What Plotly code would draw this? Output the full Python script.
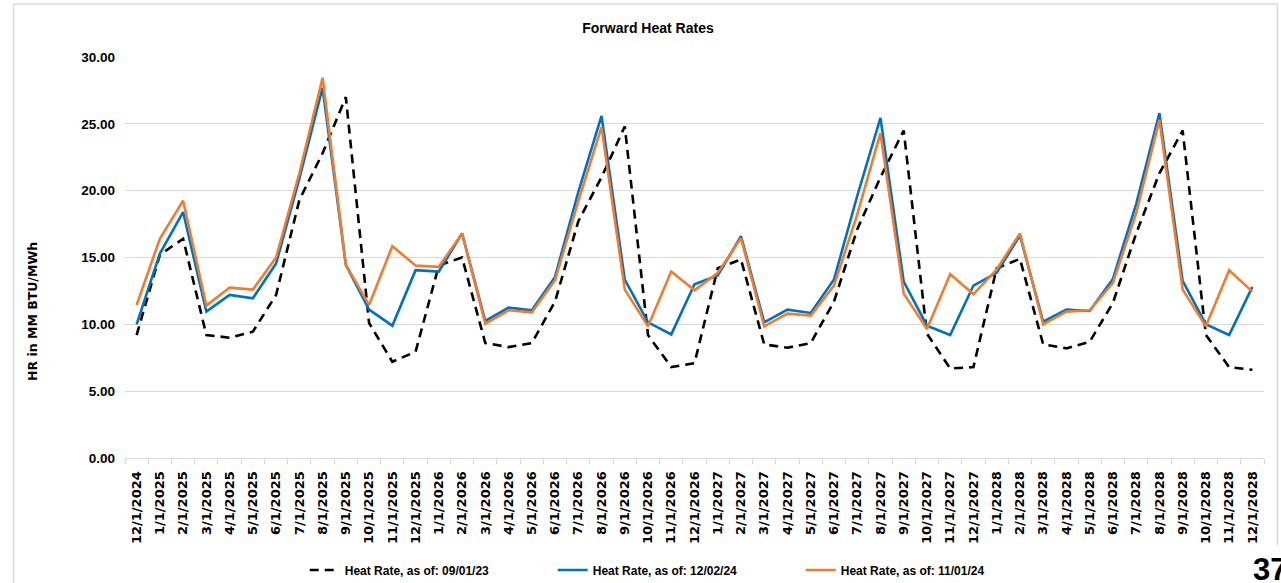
import plotly.graph_objects as go

months = [
    "12/1/2024", "1/1/2025", "2/1/2025", "3/1/2025", "4/1/2025", "5/1/2025", "6/1/2025",
    "7/1/2025", "8/1/2025", "9/1/2025", "10/1/2025", "11/1/2025", "12/1/2025",
    "1/1/2026", "2/1/2026", "3/1/2026", "4/1/2026", "5/1/2026", "6/1/2026",
    "7/1/2026", "8/1/2026", "9/1/2026", "10/1/2026", "11/1/2026", "12/1/2026",
    "1/1/2027", "2/1/2027", "3/1/2027", "4/1/2027", "5/1/2027", "6/1/2027",
    "7/1/2027", "8/1/2027", "9/1/2027", "10/1/2027", "11/1/2027", "12/1/2027",
    "1/1/2028", "2/1/2028", "3/1/2028", "4/1/2028", "5/1/2028", "6/1/2028",
    "7/1/2028", "8/1/2028", "9/1/2028", "10/1/2028", "11/1/2028", "12/1/2028",
]

hr_090123 = [9.2, 15.2, 16.4, 9.2, 9.0, 9.45, 12.2, 19.3, 22.8, 27.0, 10.1, 7.2, 7.95,
             14.4, 15.0, 8.6, 8.3, 8.6, 11.7, 17.7, 21.0, 24.8, 9.2, 6.8, 7.1,
             14.2, 14.85, 8.5, 8.25, 8.6, 11.7, 17.1, 21.0, 24.5, 9.3, 6.7, 6.8,
             14.2, 14.9, 8.5, 8.2, 8.7, 11.6, 16.8, 21.3, 24.5, 9.2, 6.8, 6.6]

hr_120224 = [10.0, 15.3, 18.4, 10.95, 12.2, 11.95, 14.55, 20.9, 27.7, 14.45, 11.1, 9.9, 14.05,
             13.95, 16.8, 10.25, 11.25, 11.05, 13.55, 19.9, 25.6, 13.35, 10.15, 9.25, 13.0,
             13.65, 16.6, 10.15, 11.1, 10.85, 13.35, 19.6, 25.45, 13.2, 9.9, 9.2, 12.9,
             13.85, 16.65, 10.2, 11.1, 11.0, 13.4, 19.0, 25.8, 13.25, 10.0, 9.2, 12.8]

hr_110124 = [11.45, 16.4, 19.25, 11.4, 12.75, 12.6, 15.0, 21.3, 28.45, 14.45, 11.45, 15.85, 14.4,
             14.3, 16.8, 10.05, 11.05, 10.9, 13.3, 19.2, 24.75, 12.6, 9.85, 13.95, 12.55,
             13.85, 16.45, 9.85, 10.8, 10.65, 12.9, 18.2, 24.3, 12.3, 9.65, 13.75, 12.25,
             14.1, 16.8, 10.0, 10.95, 11.05, 13.1, 18.3, 25.3, 12.6, 9.85, 14.05, 12.45]

series_names = ["Heat Rate, as of: 09/01/23", "Heat Rate, as of: 12/02/24", "Heat Rate, as of: 11/01/24"]
y_ticks = [0, 5, 10, 15, 20, 25, 30]

SANS = "Liberation Sans, Arial, sans-serif"
WIDE = "DejaVu Sans, Verdana, sans-serif"
GRID = "#d9d9d9"

fig = go.Figure()
fig.add_trace(go.Scatter(x=months, y=hr_090123, mode="lines", name=series_names[0],
                         line=dict(color="black", width=2.6, dash="9px,6px")))
fig.add_trace(go.Scatter(x=months, y=hr_120224, mode="lines", name=series_names[1],
                         line=dict(color="#0070C0", width=2.6)))
fig.add_trace(go.Scatter(x=months, y=hr_110124, mode="lines", name=series_names[2],
                         line=dict(color="#ED7D31", width=2.6)))

L, R, T, B = 125.4, 17.4, 57, 125
PW, PH = 1281 - L - R, 583 - T - B


def px_x(px):
    return (px - L) / PW


def px_y(py):
    return (583 - B - py) / PH


fig.update_layout(
    width=1281, height=583, autosize=False,
    margin=dict(l=L, r=R, t=T, b=B, pad=0, autoexpand=False),
    paper_bgcolor="white", plot_bgcolor="white",
    showlegend=True,
    legend=dict(orientation="h", x=px_x(305), xanchor="left", y=px_y(570), yanchor="middle",
                font=dict(family=SANS, size=12, color="black", weight="bold"),
                entrywidth=203, entrywidthmode="pixels", traceorder="normal"),
    title=dict(text="<b>Forward Heat Rates</b>", x=px_x(648), xref="paper", xanchor="center",
               y=1 - 28 / 583, yref="container", yanchor="middle",
               font=dict(family=SANS, size=14, color="black")),
    xaxis=dict(type="category", range=[-0.5, len(months) - 0.5], tickangle=-90,
               showgrid=False, showline=True, linecolor=GRID, linewidth=1,
               ticks="outside", tickson="boundaries", ticklen=5, tickcolor=GRID,
               tickfont=dict(family=WIDE, size=13, color="black", weight="bold"),
               ticklabelstandoff=7, zeroline=False, automargin=False),
    yaxis=dict(range=[0, 30], tickvals=y_ticks, tickformat=".2f", showgrid=True,
               gridcolor=GRID, gridwidth=1, showline=False, zeroline=False, ticks="",
               tickfont=dict(family=SANS, size=13.5, color="black", weight="bold"),
               ticklabelstandoff=9, automargin=False),
    annotations=[
        dict(text="<b>HR in MM BTU/MWh</b>", textangle=-90, xref="paper", yref="paper",
             x=px_x(33), y=px_y(311.5), xanchor="center", yanchor="middle", showarrow=False,
             font=dict(family=WIDE, size=12.5, color="black")),
        dict(text="<b>37</b>", xref="paper", yref="paper", x=px_x(1251), y=px_y(569),
             xanchor="left", yanchor="middle", showarrow=False,
             font=dict(family=SANS, size=31, color="black")),
    ],
    shapes=[
        dict(type="line", xref="paper", yref="paper", x0=px_x(14), x1=px_x(1277), y0=px_y(4), y1=px_y(4),
             line=dict(color=GRID, width=1.5), layer="below"),
        dict(type="line", xref="paper", yref="paper", x0=px_x(14), x1=px_x(14), y0=px_y(4), y1=px_y(590),
             line=dict(color=GRID, width=1.5), layer="below"),
        dict(type="line", xref="paper", yref="paper", x0=px_x(1277), x1=px_x(1277), y0=px_y(4), y1=px_y(545),
             line=dict(color=GRID, width=1.5), layer="below"),
    ],
)

fig.write_html("out.html", config={"displayModeBar": False},
               post_script="document.body.style.margin='0';document.body.style.overflow='hidden';")
